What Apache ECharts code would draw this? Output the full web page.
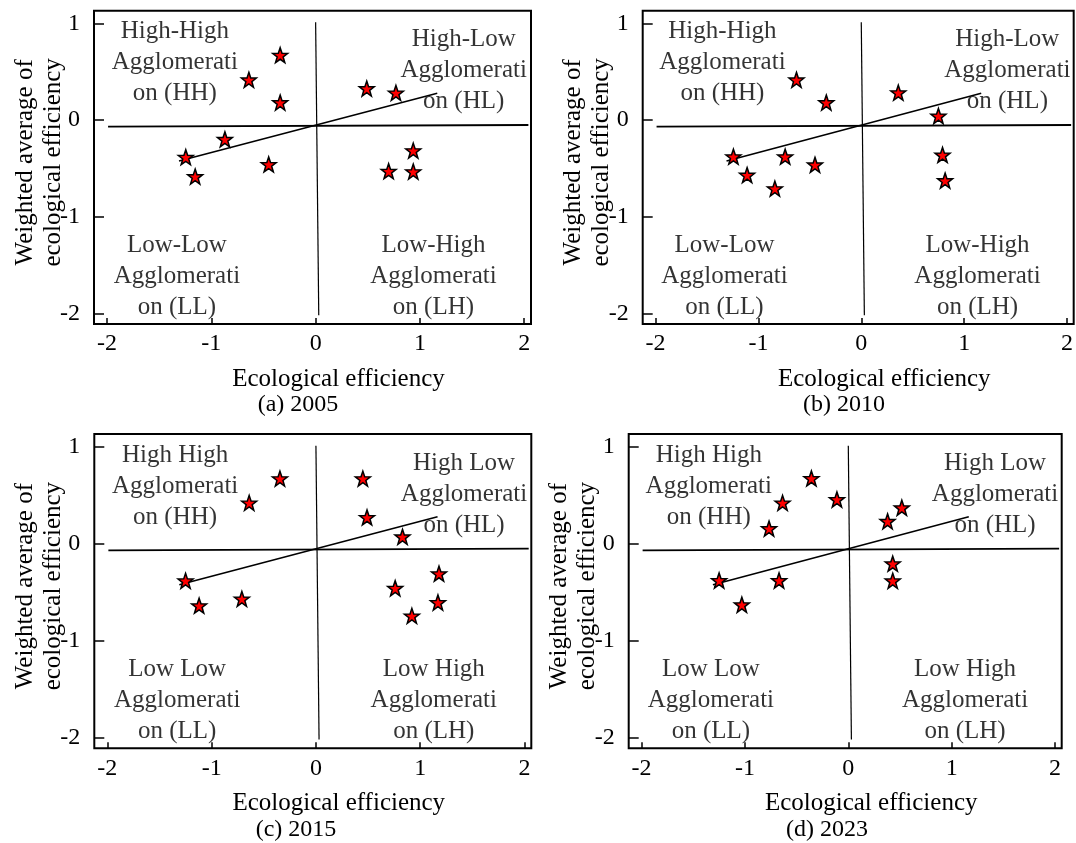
<!DOCTYPE html>
<html>
<head>
<meta charset="utf-8">
<script src="https://cdn.jsdelivr.net/npm/echarts@6/dist/echarts.min.js"></script>
<style>
  html, body { margin: 0; padding: 0; background: #ffffff; }
  #chart { width: 1076px; height: 843px; }
</style>
</head>
<body>
<div id="chart"></div>
<script>
// Axis ticks and visible ranges shared by all four panels
const xTickValues = [-2, -1, 0, 1, 2];
const yTickValues = [-2, -1, 0, 1];
const xRange = [-2.125, 2.065];
const yRange = [-2.11, 1.13];

const panelCaptions = ['(a) 2005', '(b) 2010', '(c) 2015', '(d) 2023'];
const xAxisTitle = 'Ecological efficiency';
const yAxisTitle = 'Weighted average of\necological efficiency';

// Moran scatter points: [ecological efficiency, spatially weighted average]
const points2005 = [
  [-0.34, 0.67], [-0.64, 0.415], [-0.34, 0.18], [-0.87, -0.20],
  [-1.245, -0.385], [-1.155, -0.585], [-0.45, -0.46],
  [0.49, 0.325], [0.77, 0.28], [0.936, -0.317], [0.70, -0.53], [0.936, -0.534]
];
const points2010 = [
  [-0.63, 0.415], [-0.34, 0.18], [0.36, 0.282], [0.75, 0.041],
  [-1.243, -0.38], [-0.74, -0.38], [-0.45, -0.464], [-1.11, -0.57],
  [-0.84, -0.71], [0.79, -0.362], [0.815, -0.627]
];
const points2015 = [
  [-0.345, 0.67], [-0.64, 0.42], [0.45, 0.67], [0.49, 0.27], [0.83, 0.07],
  [-1.25, -0.383], [-1.12, -0.64], [-0.71, -0.57],
  [1.18, -0.31], [0.76, -0.46], [1.17, -0.607], [0.92, -0.745]
];
const points2023 = [
  [-0.357, 0.672], [-0.636, 0.42], [-0.11, 0.455], [-0.767, 0.155],
  [0.518, 0.37], [0.38, 0.23], [-1.25, -0.38], [-0.67, -0.38],
  [-1.03, -0.63], [0.43, -0.207], [0.43, -0.383]
];
const yearPoints = [points2005, points2010, points2015, points2023];

// Quadrant divider lines and the fitted Moran trend line
const horizontalDivider = [[-1.99, -0.069], [2.04, -0.052]];
const verticalDivider = [[0, 1.01], [0.03, -2.02]];
const trendLine = [[-1.31, -0.424], [1.166, 0.276]];

// Quadrant captions
const quadrantTitlesHyphen = ['High-High', 'High-Low', 'Low-Low', 'Low-High'];
const quadrantTitlesSpace = ['High High', 'High Low', 'Low Low', 'Low High'];
const quadrantCodes = ['HH', 'HL', 'LL', 'LH'];
const quadrantAnchors = [[-1.35, 0.59], [1.42, 0.51], [-1.33, -1.62], [1.13, -1.62]];

const FONT = '"Liberation Serif", "Times New Roman", serif';
const STAR = 'path://M0,-10 L2.35,-3.24 L9.51,-3.09 L3.8,1.24 L5.88,8.09 L0,4 L-5.88,8.09 L-3.8,1.24 L-9.51,-3.09 L-2.35,-3.24 Z';

const gridBoxes = [
  { left: 94, top: 10.7, width: 437, height: 313.3 },
  { left: 642.7, top: 10.7, width: 437, height: 313.3 },
  { left: 94.3, top: 434, width: 437, height: 314.3 },
  { left: 628.7, top: 434, width: 433, height: 314.3 }
];
const captionCenters = [298, 844, 296, 827];

const grids = [], xAxes = [], yAxes = [], series = [], graphics = [];

gridBoxes.forEach((box, i) => {
  grids.push(Object.assign({
    show: true, borderColor: '#000', borderWidth: 2,
    backgroundColor: 'transparent', containLabel: false
  }, box));

  xAxes.push({
    type: 'value', gridIndex: i, min: xRange[0], max: xRange[1], position: 'bottom',
    axisLine: { show: false, onZero: false },
    splitLine: { show: false },
    axisTick: { show: true, inside: true, length: 6, customValues: xTickValues,
      lineStyle: { color: '#000', width: 1.5 } },
    axisLabel: { show: true, customValues: xTickValues, margin: 8,
      fontFamily: FONT, fontSize: 24, color: '#000',
      formatter: v => String(v) },
    name: xAxisTitle, nameLocation: 'middle', nameGap: 43, nameMoveOverlap: false,
    nameTextStyle: { fontFamily: FONT, fontSize: 25, color: '#000', padding: [0, 0, 0, 52] }
  });

  yAxes.push({
    type: 'value', gridIndex: i, min: yRange[0], max: yRange[1], position: 'left',
    axisLine: { show: false, onZero: false },
    splitLine: { show: false },
    axisTick: { show: true, inside: true, length: 10, customValues: yTickValues,
      lineStyle: { color: '#000', width: 1.5 } },
    axisLabel: { show: true, customValues: yTickValues, margin: 14,
      fontFamily: FONT, fontSize: 24, color: '#000',
      formatter: v => String(v) },
    name: yAxisTitle, nameLocation: 'middle', nameRotate: 90, nameGap: 27,
    nameMoveOverlap: false,
    nameTextStyle: { fontFamily: FONT, fontSize: 25, color: '#000', lineHeight: 28,
      padding: [0, 0, 0, 10] }
  });

  const lineStyle = (w) => ({ color: '#000', width: w });
  [[horizontalDivider, 1.8], [verticalDivider, 1.2], [trendLine, 1.6]].forEach(([pts, w]) => {
    series.push({
      type: 'line', xAxisIndex: i, yAxisIndex: i, data: pts,
      symbol: 'none', lineStyle: lineStyle(w), silent: true, z: 2
    });
  });

  const titles = i < 2 ? quadrantTitlesHyphen : quadrantTitlesSpace;
  series.push({
    type: 'scatter', xAxisIndex: i, yAxisIndex: i, symbolSize: 0, silent: true, z: 1,
    data: quadrantAnchors.map((p, k) => ({
      value: p, name: titles[k] + '\nAgglomerati\non (' + quadrantCodes[k] + ')'
    })),
    label: {
      show: true, position: 'inside', formatter: '{b}',
      fontFamily: FONT, fontSize: 25, lineHeight: 31, color: '#000', align: 'center'
    }
  });

  series.push({
    type: 'scatter', xAxisIndex: i, yAxisIndex: i, data: yearPoints[i],
    symbol: STAR, symbolSize: 15, z: 5,
    itemStyle: { color: '#ff0000', borderColor: '#000', borderWidth: 1.5, opacity: 1 }
  });

  graphics.push({
    type: 'text', x: captionCenters[i], y: box.top + box.height + 81,
    style: { text: panelCaptions[i], font: '24px ' + FONT, fill: '#000',
      textAlign: 'center', textVerticalAlign: 'middle' }
  });
});

const chart = echarts.init(document.getElementById('chart'), null, { renderer: 'canvas' });
chart.setOption({
  backgroundColor: '#ffffff',
  animation: false,
  grid: grids,
  xAxis: xAxes,
  yAxis: yAxes,
  series: series,
  graphic: graphics
});
</script>
</body>
</html>
